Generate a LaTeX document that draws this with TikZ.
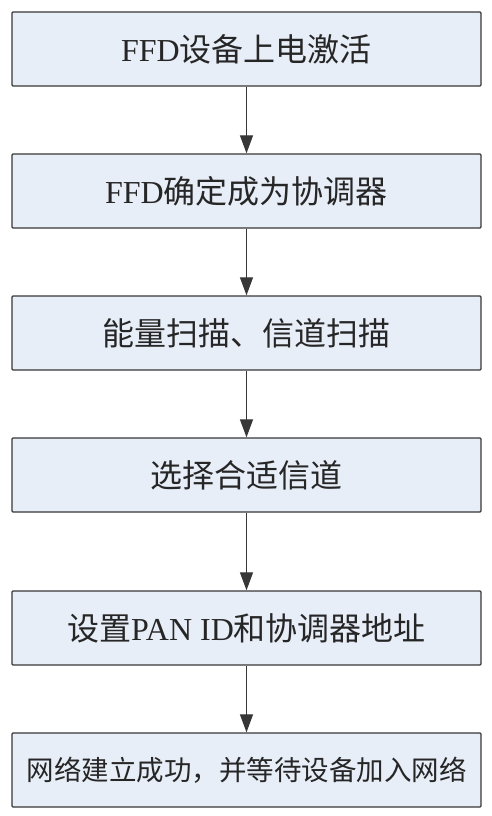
\documentclass[tikz,border=0pt]{standalone}
\usepackage{fontspec}
\setmainfont{Liberation Serif}
\newfontfamily\cjk{Noto Sans CJK SC}
\usetikzlibrary{arrows.meta}
\definecolor{boxfill}{RGB}{232,238,248}
\definecolor{boxline}{RGB}{55,55,55}
\begin{document}
\begin{tikzpicture}[x=1pt,y=-1pt,
  box/.style={draw=boxline, line width=1.3pt, fill=boxfill, rounded corners=1pt,
    minimum width=469pt, minimum height=74pt, inner sep=0pt,
    font=\fontsize{32}{36}\selectfont, text=black!85},
  flow/.style={draw=boxline, line width=1.2pt, -{Triangle[length=18pt,width=13pt]}}]
\useasboundingbox (0,0) rectangle (491,816);
\node[box] (b1) at (246.5,49) {FFD{\cjk 设备上电激活}};
\node[box] (b2) at (246.5,191) {FFD{\cjk 确定成为协调器}};
\node[box] (b3) at (246.5,333) {{\cjk 能量扫描、信道扫描}};
\node[box] (b4) at (246.5,475) {{\cjk 选择合适信道}};
\node[box] (b5) at (246.5,628) {{\cjk 设置}PAN ID{\cjk 和协调器地址}};
\node[box, font=\fontsize{27.5}{32}\selectfont] (b6) at (246.5,770) {{\cjk 网络建立成功，并等待设备加入网络}};
\draw[flow] (b1) -- (b2);
\draw[flow] (b2) -- (b3);
\draw[flow] (b3) -- (b4);
\draw[flow] (b4) -- (b5);
\draw[flow] (b5) -- (b6);
\end{tikzpicture}
\end{document}
